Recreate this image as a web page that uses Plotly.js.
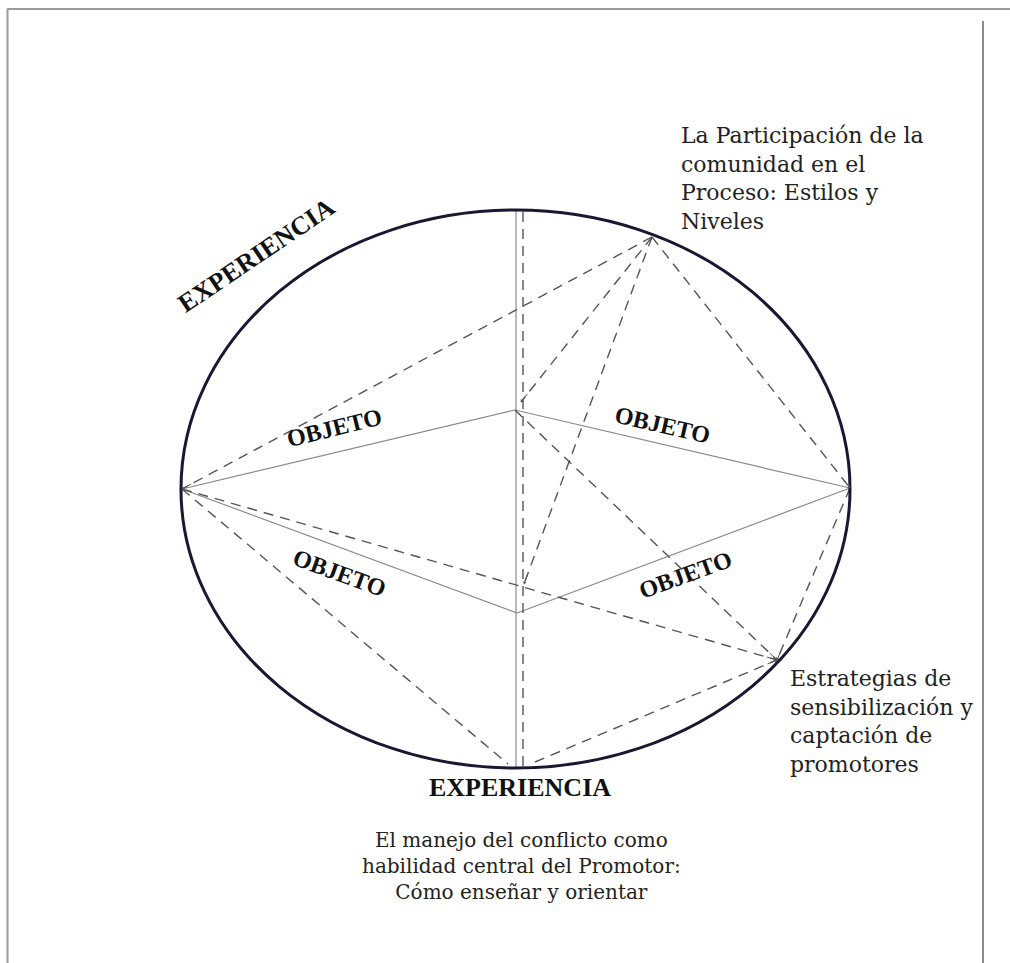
<!DOCTYPE html>
<html>
<head>
<meta charset="utf-8">
<script src="https://cdn.plot.ly/plotly-3.0.1.min.js"></script>
<style>html,body{margin:0;padding:0;background:#fff;}#chart{width:1010px;height:963px;}</style>
</head>
<body>
<div id="chart"></div>
<script>
// Diagram nodes (pixel-space coordinates of the diagram)
const nodeNames = ['P', 'C1', 'L', 'R', 'C2', 'X', 'S', 'TopS', 'BotS', 'TopD', 'BotD', 'BL', 'BR', 'C1d', 'Xd'];
const nodeX     = [652, 515, 182, 850, 517, 523, 777, 516, 516, 523, 523, 508, 535, 521, 524];
const nodeY     = [237, 410, 489, 488, 613, 587, 660, 210, 768, 212, 768, 764, 762, 402, 584];

const solidEdges  = [['L','C1'], ['C1','R'], ['L','C2'], ['C2','R'], ['TopS','BotS']];
const dashedEdges = [['P','L'], ['P','C1d'], ['P','Xd'], ['P','R'], ['C1','S'], ['L','S'],
                     ['L','BL'], ['BR','S'], ['R','S'], ['TopD','BotD']];
// small arrowheads at the end of these edges [from, to]
const arrowEdges  = [['P','L'], ['P','C1d'], ['P','Xd'], ['P','R'], ['C1','S'], ['L','S'], ['BR','S'], ['R','S']];

// Ellipse (experience circle): center and radii
const ellipseCenter = [515.5, 489];
const ellipseRadii  = [334.5, 279];

// Labels
const objetoLabels = ['OBJETO', 'OBJETO', 'OBJETO', 'OBJETO'];
const objetoX      = [334, 662, 339, 685];
const objetoY      = [428, 425, 573, 575];
const objetoAngle  = [-14, 13, 20, -20];

const experienciaLabels = ['EXPERIENCIA', 'EXPERIENCIA'];
const experienciaX      = [256, 520];
const experienciaY      = [255, 787];
const experienciaAngle  = [-34, 0];

const noteTexts = [
  'La Participación de la<br>comunidad en el<br>Proceso: Estilos y<br>Niveles',
  'Estrategias de<br>sensibilización y<br>captación de<br>promotores',
  'El manejo del conflicto como<br>habilidad central del Promotor:<br>Cómo enseñar y orientar'
];
const noteX      = [679, 788, 521];
const noteY      = [121, 664, 826];
const noteSize   = [22, 22, 20];
const noteAnchor = ['left', 'left', 'center'];

function idx(n){ return nodeNames.indexOf(n); }
function edgeCoords(edges){
  const xs = [], ys = [];
  edges.forEach(e => {
    xs.push(nodeX[idx(e[0])], nodeX[idx(e[1])], null);
    ys.push(nodeY[idx(e[0])], nodeY[idx(e[1])], null);
  });
  return {xs, ys};
}
const sol = edgeCoords(solidEdges);
const das = edgeCoords(dashedEdges);

const traces = [
  {x: sol.xs, y: sol.ys, mode: 'lines', type: 'scatter', hoverinfo: 'skip',
   line: {color: '#8a8a8a', width: 1.2}},
  {x: das.xs, y: das.ys, mode: 'lines', type: 'scatter', hoverinfo: 'skip',
   line: {color: '#555555', width: 1.4, dash: '10px,7px'}}
];

const SERIF = '"Liberation Serif", "Times New Roman", serif';
const NOTE_FONT = '"DejaVu Serif", serif';
const annotations = [];
objetoLabels.forEach((t, i) => annotations.push({
  x: objetoX[i], y: objetoY[i], xref: 'x', yref: 'y', showarrow: false,
  textangle: objetoAngle[i], font: {family: SERIF, size: 24, color: '#111'},
  xanchor: 'center', yanchor: 'middle', text: '<b>' + t + '</b>'
}));
experienciaLabels.forEach((t, i) => annotations.push({
  x: experienciaX[i], y: experienciaY[i], xref: 'x', yref: 'y', text: '<b>' + t + '</b>', showarrow: false,
  textangle: experienciaAngle[i], font: {family: SERIF, size: 26, color: '#111'},
  xanchor: 'center', yanchor: 'middle'
}));
noteTexts.forEach((t, i) => annotations.push({
  x: noteX[i], y: noteY[i], xref: 'x', yref: 'y', text: t, showarrow: false,
  font: {family: NOTE_FONT, size: noteSize[i], color: '#222'},
  xanchor: noteAnchor[i], yanchor: 'top', align: noteAnchor[i]
}));
arrowEdges.forEach(e => {
  const a = idx(e[0]), b = idx(e[1]);
  const dx = nodeX[b] - nodeX[a], dy = nodeY[b] - nodeY[a];
  const len = Math.sqrt(dx * dx + dy * dy);
  annotations.push({
    x: nodeX[b], y: nodeY[b], ax: nodeX[b] - dx / len * 12, ay: nodeY[b] - dy / len * 12,
    xref: 'x', yref: 'y', axref: 'x', ayref: 'y', text: '', showarrow: true,
    arrowhead: 1, arrowsize: 0.7, arrowwidth: 1, arrowcolor: '#555'
  });
});

const shapes = [
  {type: 'circle', xref: 'x', yref: 'y',
   x0: ellipseCenter[0] - ellipseRadii[0], x1: ellipseCenter[0] + ellipseRadii[0],
   y0: ellipseCenter[1] - ellipseRadii[1], y1: ellipseCenter[1] + ellipseRadii[1],
   line: {color: '#1c1632', width: 3}},
  // page frame
  {type: 'line', xref: 'x', yref: 'y', x0: 7, x1: 1010, y0: 9, y1: 9, line: {color: '#9a9a9a', width: 2}},
  {type: 'line', xref: 'x', yref: 'y', x0: 7.5, x1: 7.5, y0: 9, y1: 963, line: {color: '#9a9a9a', width: 2}},
  {type: 'line', xref: 'x', yref: 'y', x0: 983, x1: 983, y0: 21, y1: 963, line: {color: '#8a8a8a', width: 2}}
];

const layout = {
  width: 1010, height: 963,
  margin: {l: 0, r: 0, t: 0, b: 0},
  paper_bgcolor: '#ffffff', plot_bgcolor: '#ffffff',
  showlegend: false,
  xaxis: {range: [0, 1010], visible: false, fixedrange: true},
  yaxis: {range: [963, 0], visible: false, fixedrange: true},
  annotations: annotations,
  shapes: shapes
};

Plotly.newPlot('chart', traces, layout, {staticPlot: true, displayModeBar: false});
</script>
</body>
</html>
